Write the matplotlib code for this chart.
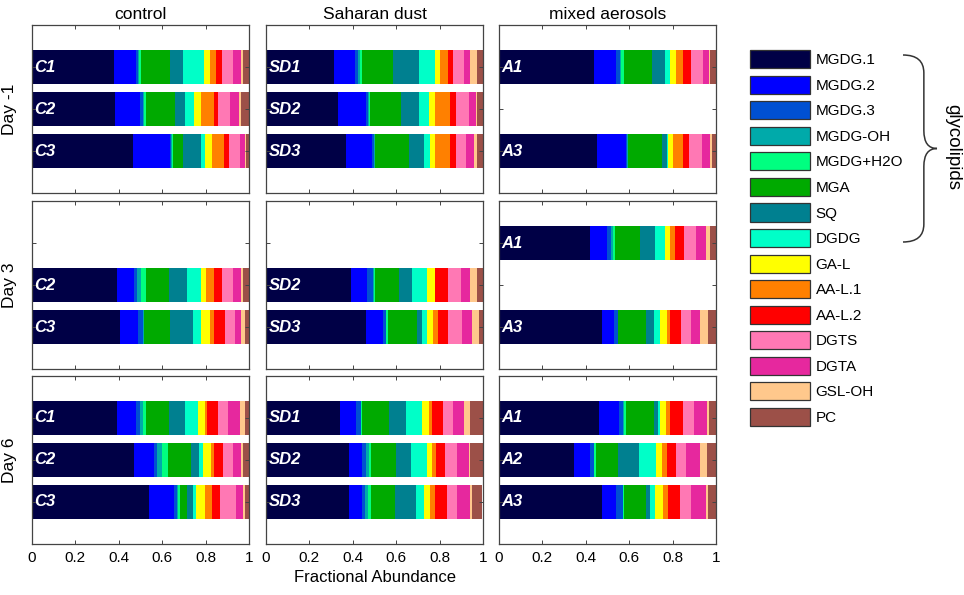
import matplotlib
matplotlib.use("Agg")
import matplotlib.pyplot as plt
from matplotlib.patches import Patch
from matplotlib.path import Path
from matplotlib.patches import PathPatch
import numpy as np

plt.rcParams['font.family'] = ['Liberation Sans', 'DejaVu Sans']

categories = ["MGDG.1", "MGDG.2", "MGDG.3", "MGDG-OH", "MGDG+H2O", "MGA", "SQ",
              "DGDG", "GA-L", "AA-L.1", "AA-L.2", "DGTS", "DGTA", "GSL-OH", "PC"]
colors = ["#000046", "#0000FF", "#0050D2", "#00AAAA", "#00FF80", "#00AA00", "#008090",
          "#00FFC8", "#FFFF00", "#FF8000", "#FF0000", "#FF78B4", "#E6289E", "#FFC88C", "#9C5048"]

columns = ["control", "Saharan dust", "mixed aerosols"]
days = ["Day -1", "Day 3", "Day 6"]

# Day -1
dm1_C1 = [0.376, 0.102, 0.009, 0.006, 0.009, 0.133, 0.060, 0.097, 0.026, 0.032, 0.027, 0.049, 0.035, 0.011, 0.028]
dm1_C2 = [0.381, 0.118, 0.013, 0.004, 0.008, 0.137, 0.043, 0.043, 0.031, 0.060, 0.019, 0.057, 0.038, 0.011, 0.037]
dm1_C3 = [0.467, 0.168, 0.004, 0.006, 0.004, 0.046, 0.086, 0.016, 0.034, 0.055, 0.020, 0.054, 0.022, 0.003, 0.015]
dm1_SD1 = [0.314, 0.097, 0.013, 0.011, 0.007, 0.145, 0.120, 0.070, 0.023, 0.037, 0.024, 0.053, 0.026, 0.031, 0.029]
dm1_SD2 = [0.333, 0.129, 0.006, 0.005, 0.006, 0.143, 0.085, 0.045, 0.025, 0.070, 0.028, 0.060, 0.033, 0.006, 0.026]
dm1_SD3 = [0.368, 0.120, 0.008, 0.006, 0.002, 0.157, 0.068, 0.028, 0.021, 0.069, 0.028, 0.046, 0.039, 0.011, 0.029]
dm1_A1 = [0.437, 0.104, 0.016, 0.003, 0.015, 0.128, 0.062, 0.024, 0.028, 0.033, 0.034, 0.058, 0.026, 0.003, 0.029]
dm1_A3 = [0.453, 0.133, 0.004, 0.003, 0.002, 0.156, 0.021, 0.008, 0.024, 0.043, 0.028, 0.059, 0.038, 0.008, 0.020]
# Day 3
d3_C2 = [0.394, 0.074, 0.016, 0.018, 0.023, 0.108, 0.083, 0.061, 0.027, 0.034, 0.039, 0.049, 0.035, 0.011, 0.028]
d3_C3 = [0.404, 0.086, 0.022, 0.003, 0.001, 0.120, 0.105, 0.040, 0.037, 0.020, 0.050, 0.047, 0.030, 0.017, 0.018]
d3_SD2 = [0.390, 0.075, 0.027, 0.004, 0.008, 0.109, 0.060, 0.067, 0.040, 0.001, 0.059, 0.060, 0.040, 0.034, 0.026]
d3_SD3 = [0.459, 0.079, 0.014, 0.003, 0.007, 0.133, 0.023, 0.022, 0.030, 0.022, 0.048, 0.061, 0.048, 0.032, 0.019]
d3_A1 = [0.419, 0.078, 0.017, 0.010, 0.011, 0.113, 0.069, 0.049, 0.023, 0.023, 0.041, 0.055, 0.046, 0.018, 0.028]
d3_A3 = [0.474, 0.054, 0.019, 0.001, 0.002, 0.129, 0.034, 0.030, 0.031, 0.015, 0.049, 0.049, 0.038, 0.037, 0.038]
# Day 6
d6_C1 = [0.394, 0.084, 0.020, 0.014, 0.012, 0.109, 0.074, 0.059, 0.029, 0.012, 0.050, 0.047, 0.056, 0.022, 0.018]
d6_C2 = [0.468, 0.096, 0.014, 0.020, 0.028, 0.109, 0.034, 0.021, 0.034, 0.013, 0.041, 0.048, 0.039, 0.006, 0.029]
d6_C3 = [0.538, 0.118, 0.013, 0.004, 0.010, 0.033, 0.027, 0.014, 0.040, 0.034, 0.035, 0.072, 0.036, 0.008, 0.018]
d6_SD1 = [0.342, 0.074, 0.022, 0.001, 0.002, 0.128, 0.074, 0.078, 0.031, 0.014, 0.048, 0.049, 0.049, 0.028, 0.060]
d6_SD2 = [0.382, 0.062, 0.017, 0.014, 0.010, 0.116, 0.068, 0.071, 0.027, 0.016, 0.044, 0.051, 0.056, 0.006, 0.060]
d6_SD3 = [0.382, 0.059, 0.017, 0.013, 0.014, 0.110, 0.095, 0.040, 0.028, 0.020, 0.054, 0.049, 0.059, 0.009, 0.045]
d6_A1 = [0.462, 0.090, 0.020, 0.003, 0.009, 0.129, 0.018, 0.012, 0.028, 0.015, 0.061, 0.052, 0.061, 0.009, 0.031]
d6_A2 = [0.344, 0.075, 0.017, 0.004, 0.008, 0.101, 0.095, 0.081, 0.026, 0.021, 0.043, 0.046, 0.064, 0.035, 0.040]
d6_A3 = [0.474, 0.067, 0.029, 0.002, 0.003, 0.104, 0.015, 0.025, 0.038, 0.021, 0.057, 0.049, 0.072, 0.009, 0.035]

# panel layout: (day index, column index) -> list of (row position, label, values)
panels = {
    (0, 0): [(1, "C1", dm1_C1), (2, "C2", dm1_C2), (3, "C3", dm1_C3)],
    (0, 1): [(1, "SD1", dm1_SD1), (2, "SD2", dm1_SD2), (3, "SD3", dm1_SD3)],
    (0, 2): [(1, "A1", dm1_A1), (3, "A3", dm1_A3)],
    (1, 0): [(2, "C2", d3_C2), (3, "C3", d3_C3)],
    (1, 1): [(2, "SD2", d3_SD2), (3, "SD3", d3_SD3)],
    (1, 2): [(1, "A1", d3_A1), (3, "A3", d3_A3)],
    (2, 0): [(1, "C1", d6_C1), (2, "C2", d6_C2), (3, "C3", d6_C3)],
    (2, 1): [(1, "SD1", d6_SD1), (2, "SD2", d6_SD2), (3, "SD3", d6_SD3)],
    (2, 2): [(1, "A1", d6_A1), (2, "A2", d6_A2), (3, "A3", d6_A3)],
}

W, H = 964, 595
fig = plt.figure(figsize=(W / 100, H / 100), dpi=100)

col_left = [32, 266, 499]
col_w = 217
row_top = [25, 201, 376]
row_h = 168
spine_c = "#444444"

for (d, c), rows in panels.items():
    ax = fig.add_axes([col_left[c] / W, 1 - (row_top[d] + row_h) / H, col_w / W, row_h / H])
    for pos, lab, vals in rows:
        left = 0.0
        for k, v in enumerate(vals):
            ax.barh(pos, v, left=left, height=0.8, color=colors[k], linewidth=0)
            left += v
        ax.text(0.012, pos, lab, color="white", fontsize=12, fontweight="bold",
                fontstyle="italic", va="center", ha="left")
    ax.set_xlim(0, 1)
    ax.set_ylim(4, 0)
    ax.set_xticks([0, 0.2, 0.4, 0.6, 0.8, 1.0])
    ax.set_xticklabels(["0", "0.2", "0.4", "0.6", "0.8", "1"])
    ax.set_yticks([1, 2, 3])
    ax.set_yticklabels([])
    ax.tick_params(direction="in", top=True, right=True, length=3, width=0.7,
                   color=spine_c, labelsize=11, pad=5)
    if d != 2:
        ax.set_xticklabels([])
    for s in ax.spines.values():
        s.set_color(spine_c)
        s.set_linewidth(0.9)
    if d == 0:
        ax.set_title(columns[c], fontsize=12.5, pad=4)
    if c == 0:
        ax.set_ylabel(days[d], fontsize=12.5, labelpad=6)

fig.text((266 + 217 / 2) / W, 1 - 577 / H, "Fractional Abundance", fontsize=12,
         ha="center", va="center")

# legend
handles = [Patch(facecolor=colors[k], edgecolor="#333333", linewidth=0.9, label=categories[k])
           for k in range(len(categories))]
leg = fig.legend(handles=handles, loc="upper left",
                 bbox_to_anchor=(744 / W, 1 - 44 / H), frameon=False,
                 fontsize=11, handlelength=3.95, handleheight=1.45,
                 labelspacing=0.485, handletextpad=0.33, borderaxespad=0)

# brace for glycolipids
x0, x1 = 903 / W, 937 / W
ytop, ybot = 1 - 55 / H, 1 - 242 / H
ymid = (ytop + ybot) / 2
xm = (x0 + x1) / 2 + 0.004
verts = [
    (x0, ytop), (xm, ytop), (xm, ytop - 0.03),
    (xm, ymid + 0.03),
    (xm, ymid), (x1, ymid),
    (xm, ymid), (xm, ymid - 0.03),
    (xm, ybot + 0.03),
    (xm, ybot), (x0, ybot),
]
codes = [Path.MOVETO, Path.CURVE3, Path.CURVE3,
         Path.LINETO,
         Path.CURVE3, Path.CURVE3,
         Path.CURVE3, Path.CURVE3,
         Path.LINETO,
         Path.CURVE3, Path.CURVE3]
brace = PathPatch(Path(verts, codes), transform=fig.transFigure, fill=False,
                  edgecolor="#333333", linewidth=1.1)
fig.add_artist(brace)
fig.text(953 / W, 1 - 147 / H, "glycolipids", rotation=270, fontsize=13.5,
         ha="center", va="center")

fig.savefig("out.png", dpi=100)
